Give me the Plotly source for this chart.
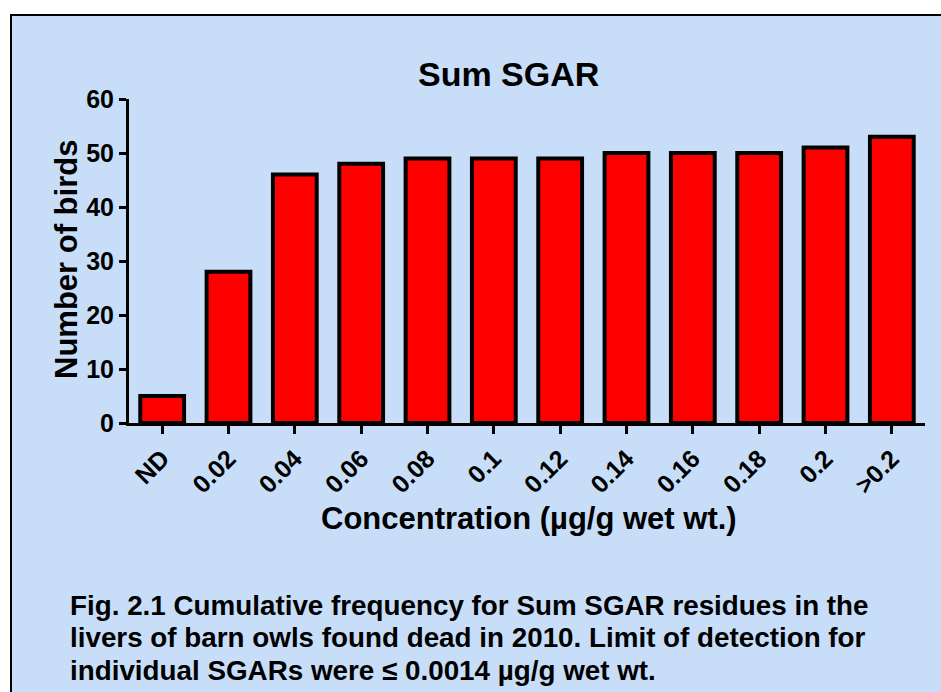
import plotly.graph_objects as go

categories = ["ND", "0.02", "0.04", "0.06", "0.08", "0.1", "0.12", "0.14", "0.16", "0.18", "0.2", ">0.2"]
counts = [5, 28, 46, 48, 49, 49, 49, 50, 50, 50, 51, 53]
y_ticks = [0, 10, 20, 30, 40, 50, 60]
caption_lines = [
    "Fig. 2.1 Cumulative frequency for Sum SGAR residues in the",
    "livers of barn owls found dead in 2010. Limit of detection for",
    "individual SGARs were \u2264 0.0014 \u00b5g/g wet wt.",
]

W, H = 941, 692
L, R, T, B = 129, 925, 99, 423
pw, ph = R - L, B - T

def px(x):
    return (x - L) / pw

def py(y):
    return (B - y) / ph

BG = "#C8DEF8"
FONT = "Liberation Sans, Arial, sans-serif"

fig = go.Figure()
fig.add_trace(go.Bar(
    x=categories, y=counts, width=0.66,
    marker=dict(color="#FF0000", line=dict(color="black", width=4)),
))

annotations = [
    dict(text="<b>Sum SGAR</b>", xref="paper", yref="paper", x=px(508), y=py(74),
         xanchor="center", yanchor="middle", showarrow=False, font=dict(size=34, family=FONT)),
    dict(text="<b>Number of birds</b>", xref="paper", yref="paper", x=px(66), y=py(260),
         xanchor="center", yanchor="middle", textangle=-90, showarrow=False, font=dict(size=31, family=FONT)),
    dict(text="<b>Concentration (\u00b5g/g wet wt.)</b>", xref="paper", yref="paper", x=px(529), y=py(518),
         xanchor="center", yanchor="middle", showarrow=False, font=dict(size=31, family=FONT)),
]
for i, line in enumerate(caption_lines):
    annotations.append(dict(
        text="<b>" + line + "</b>", xref="paper", yref="paper", x=px(68), y=py(605 + 32.5 * i),
        xanchor="left", yanchor="middle", showarrow=False, font=dict(size=27.8, family=FONT)))

fig.update_layout(
    width=W, height=H,
    margin=dict(l=L, r=W - R, t=T, b=H - B, pad=0),
    paper_bgcolor="white", plot_bgcolor=BG,
    showlegend=False,
    font=dict(family=FONT, color="black"),
    xaxis=dict(
        type="category", range=[-0.5, 11.5],
        showline=True, linecolor="black", linewidth=3,
        ticks="outside", ticklen=8, tickwidth=3, tickcolor="black",
        tickangle=-45, tickfont=dict(size=25, family=FONT, weight="bold"),
        showgrid=False, zeroline=False,
    ),
    yaxis=dict(
        range=[0, 60], tickvals=y_ticks,
        showline=True, linecolor="black", linewidth=3,
        ticks="outside", ticklen=7, tickwidth=3, tickcolor="black",
        tickfont=dict(size=25, family=FONT, weight="bold"),
        showgrid=False, zeroline=False,
    ),
    shapes=[dict(
        type="rect", xref="paper", yref="paper", layer="below",
        x0=px(11), x1=px(960), y0=py(15), y1=py(720),
        fillcolor=BG, line=dict(color="black", width=2),
    )],
    annotations=annotations,
)

fig.write_html("out.html", config={"displayModeBar": False},
               post_script="document.body.style.margin='0';document.body.style.overflow='hidden';")
